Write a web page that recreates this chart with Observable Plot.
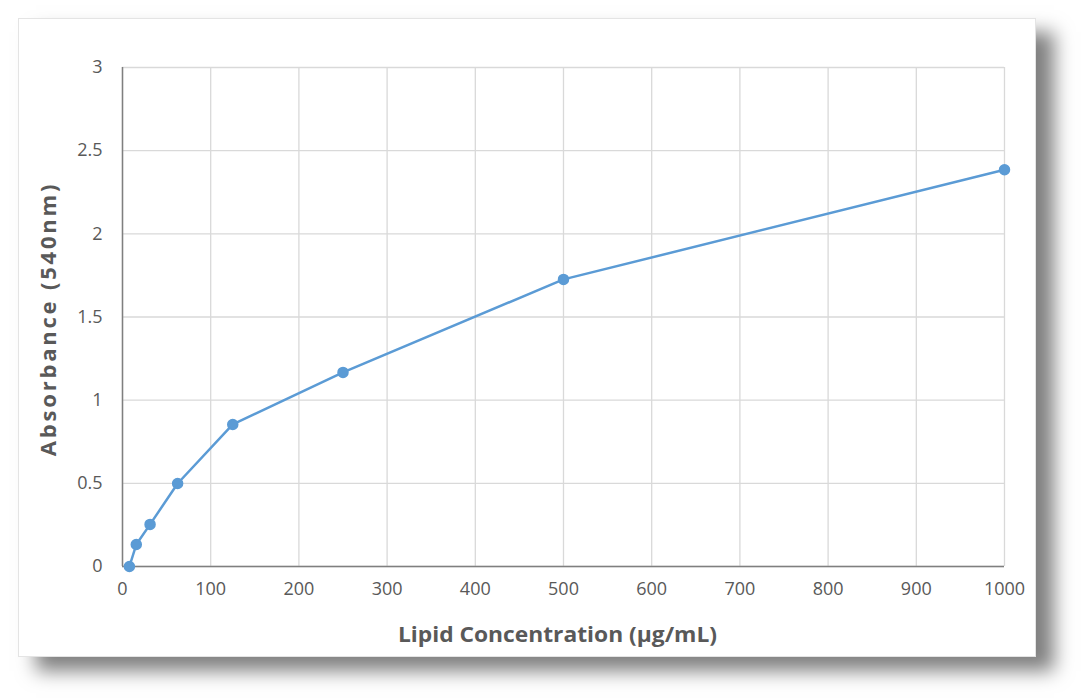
<!DOCTYPE html>
<html>
<head>
<meta charset="utf-8">
<script src="https://cdn.jsdelivr.net/npm/d3@7"></script>
<script src="https://cdn.jsdelivr.net/npm/@observablehq/plot@0.6"></script>
<style>
  html, body { margin: 0; padding: 0; background: #ffffff; width: 1086px; height: 700px; overflow: hidden; }
  #panel {
    position: absolute; left: 18px; top: 18px; width: 1018px; height: 639px;
    background: #ffffff;
    border: 1px solid #e4e4e4;
    box-sizing: border-box;
    box-shadow: 18px 14px 18px rgba(0,0,0,0.5);
  }
  #panel svg { position: absolute; left: 0; top: 0; overflow: visible; }
</style>
</head>
<body>
<div id="panel"></div>
<script>
const concentration = [7.8125, 15.625, 31.25, 62.5, 125, 250, 500, 1000];
const absorbance = [0.0, 0.132, 0.253, 0.499, 0.854, 1.167, 1.726, 2.385];
const xTicks = [0, 100, 200, 300, 400, 500, 600, 700, 800, 900, 1000];
const yTicks = [0, 0.5, 1, 1.5, 2, 2.5, 3];
const xLabel = "Lipid Concentration (µg/mL)";
const yLabel = "Absorbance (540nm)";

const data = concentration.map((c, i) => ({x: c, y: absorbance[i]}));
const font = "'Open Sans', 'Segoe UI', Lato, sans-serif";

const chart = Plot.plot({
  width: 1016,
  height: 637,
  marginLeft: 103,
  marginRight: 31,
  marginTop: 48,
  marginBottom: 90,
  style: { fontFamily: font, fontSize: "18px", color: "#595959", background: "transparent", overflow: "visible" },
  x: { domain: [0, 1000], ticks: xTicks, label: null },
  y: { domain: [0, 3], ticks: yTicks, label: null },
  marks: [
    Plot.gridX(xTicks, { stroke: "#d9d9d9", strokeOpacity: 1, strokeWidth: 1.3 }),
    Plot.gridY(yTicks, { stroke: "#d9d9d9", strokeOpacity: 1, strokeWidth: 1.3 }),
    Plot.axisX({ ticks: xTicks, tickSize: 0, tickPadding: 16, fill: "#595959", fontSize: 18, label: null, tickFormat: d => String(d) }),
    Plot.axisY({ ticks: yTicks, tickSize: 0, tickPadding: 20, fill: "#595959", fontSize: 18, label: null, tickFormat: d => String(d) }),
    Plot.ruleY([0], { stroke: "#7f7f7f", strokeWidth: 1.5 }),
    Plot.ruleX([0], { stroke: "#7f7f7f", strokeWidth: 1.5 }),
    Plot.line(data, { x: "x", y: "y", stroke: "#5b9bd5", strokeWidth: 2.5 }),
    Plot.dot(data, { x: "x", y: "y", r: 5, fill: "#5b9bd5", stroke: "#5b9bd5" }),
    Plot.text([xLabel], { frameAnchor: "bottom", dx: -6, dy: 68, lineAnchor: "middle", fontSize: 22, fontWeight: "bold", fill: "#595959", className: "xtitle" }),
    Plot.text([yLabel], { frameAnchor: "left", textAnchor: "middle", lineAnchor: "middle", dx: -74, dy: 2, rotate: -90, fontSize: 22, fontWeight: "bold", fill: "#595959", className: "ytitle" })
  ]
});
document.getElementById("panel").appendChild(chart);
// stretch the titles to the reference widths
chart.querySelectorAll(".xtitle text").forEach(t => { t.setAttribute("textLength", 319); t.setAttribute("lengthAdjust", "spacingAndGlyphs"); });
chart.querySelectorAll(".ytitle text").forEach(t => { t.setAttribute("letter-spacing", "2.8px"); });
</script>
</body>
</html>
